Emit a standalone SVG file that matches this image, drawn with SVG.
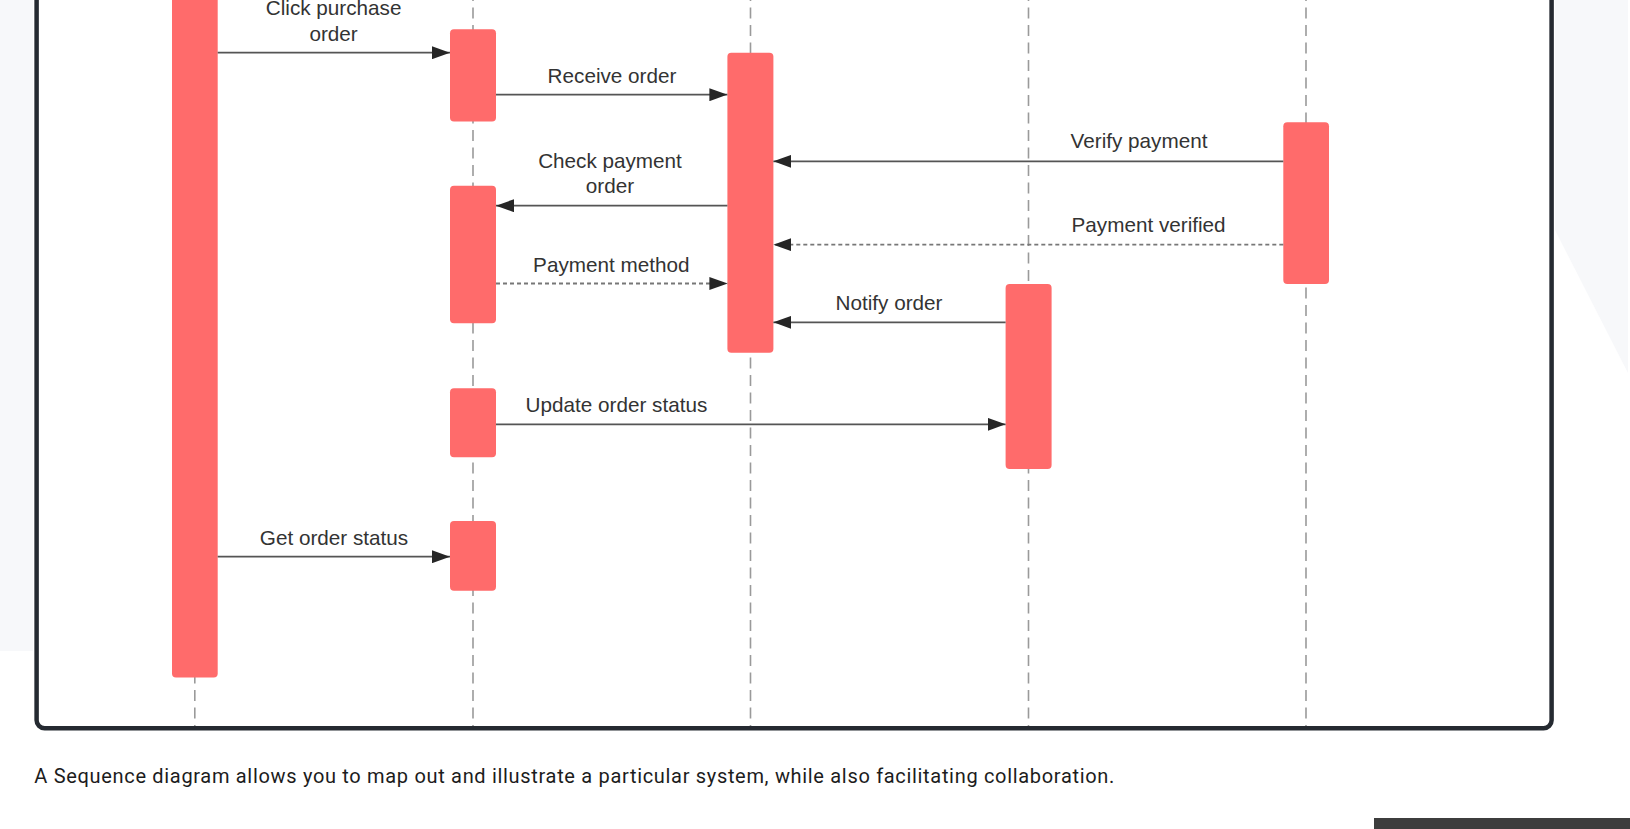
<svg xmlns="http://www.w3.org/2000/svg" width="1630" height="829" viewBox="0 0 1630 829">
  <style>
    .bar { fill: #ff6b6b; }
    .life { stroke: #9a9a9a; stroke-width: 1.6; stroke-dasharray: 11 6.5; fill: none; }
    .msg { stroke: #555; stroke-width: 1.8; fill: none; }
    .ret { stroke: #777; stroke-width: 1.8; stroke-dasharray: 4 3; fill: none; }
    .lbl { font-family: "Liberation Sans", Arial, sans-serif; font-size: 20.7px; fill: #333; text-anchor: middle; }
    .cap { font-family: Roboto, "Noto Sans", sans-serif; font-size: 20px; fill: #1c1c1c; }
  </style>
  <defs>
    <marker id="ah" viewBox="0 0 18 13" refX="18" refY="6.5" markerWidth="18" markerHeight="13" markerUnits="userSpaceOnUse" orient="auto">
      <path d="M0,0 L18,6.5 L0,13 z" fill="#262626"/>
    </marker>
  </defs>

  <rect x="0" y="0" width="1630" height="829" fill="#ffffff"/>
  <g id="backdrop">
    <rect x="0" y="0" width="33" height="651" fill="#f7f8fa"/>
    <polygon points="1555,0 1628,0 1628,373 1555,230" fill="#f7f8fa"/>
    <rect x="1374" y="818" width="256" height="11" fill="#3d3d3d"/>
  </g>

  <g id="frame">
    <rect x="36.6" y="-30" width="1515" height="758.3" rx="8" ry="8" fill="#ffffff" stroke="#252a31" stroke-width="4.5"/>
  </g>

  <g id="lifelines">
    <line class="life" x1="194.8" y1="-10" x2="194.8" y2="726"/>
    <line class="life" x1="473" y1="-10" x2="473" y2="726"/>
    <line class="life" x1="750.5" y1="-10" x2="750.5" y2="726"/>
    <line class="life" x1="1028.5" y1="-10" x2="1028.5" y2="726"/>
    <line class="life" x1="1306" y1="-10" x2="1306" y2="726"/>
  </g>

  <g id="activations">
    <rect id="bar1" class="bar" x="172" y="-20" width="45.7" height="697.5" rx="4"/>
    <rect id="bar2a" class="bar" x="450" y="29.3" width="46" height="92.2" rx="4"/>
    <rect id="bar2b" class="bar" x="450" y="185.7" width="46" height="137.6" rx="4"/>
    <rect id="bar2c" class="bar" x="450" y="388.3" width="46" height="69" rx="4"/>
    <rect id="bar2d" class="bar" x="450" y="521" width="46" height="69.7" rx="4"/>
    <rect id="bar3" class="bar" x="727.4" y="52.7" width="46" height="300" rx="4"/>
    <rect id="bar4" class="bar" x="1005.6" y="284" width="46" height="185" rx="4"/>
    <rect id="bar5" class="bar" x="1283.3" y="122.3" width="45.7" height="161.7" rx="4"/>
  </g>

  <g id="connectors">
    <line class="msg" x1="217.7" y1="52.7" x2="450" y2="52.7" marker-end="url(#ah)"/>
    <line class="msg" x1="496" y1="94.7" x2="727.4" y2="94.7" marker-end="url(#ah)"/>
    <line class="msg" x1="1283.3" y1="161.3" x2="773.4" y2="161.3" marker-end="url(#ah)"/>
    <line class="msg" x1="727.4" y1="205.7" x2="496" y2="205.7" marker-end="url(#ah)"/>
    <line class="ret" x1="1283.3" y1="244.7" x2="773.4" y2="244.7" marker-end="url(#ah)"/>
    <line class="ret" x1="496" y1="283.5" x2="727.4" y2="283.5" marker-end="url(#ah)"/>
    <line class="msg" x1="1005.6" y1="322.3" x2="773.4" y2="322.3" marker-end="url(#ah)"/>
    <line class="msg" x1="496" y1="424.3" x2="1005.6" y2="424.3" marker-end="url(#ah)"/>
    <line class="msg" x1="217.7" y1="556.7" x2="450" y2="556.7" marker-end="url(#ah)"/>
  </g>

  <g id="labels">
    <text class="lbl" x="333.6" y="15">Click purchase</text>
    <text class="lbl" x="333.6" y="40.5">order</text>
    <text class="lbl" x="612" y="82.7">Receive order</text>
    <text class="lbl" x="1139" y="148.3">Verify payment</text>
    <text class="lbl" x="610" y="168.3">Check payment</text>
    <text class="lbl" x="610" y="192.7">order</text>
    <text class="lbl" x="1148.6" y="232.3">Payment verified</text>
    <text class="lbl" x="611.3" y="271.7">Payment method</text>
    <text class="lbl" x="889" y="310">Notify order</text>
    <text class="lbl" x="616.4" y="411.7">Update order status</text>
    <text class="lbl" x="334" y="545">Get order status</text>
  </g>

  <g id="caption">
    <text class="cap" x="34.3" y="783" textLength="1080" lengthAdjust="spacing">A Sequence diagram allows you to map out and illustrate a particular system, while also facilitating collaboration.</text>
  </g>
</svg>
